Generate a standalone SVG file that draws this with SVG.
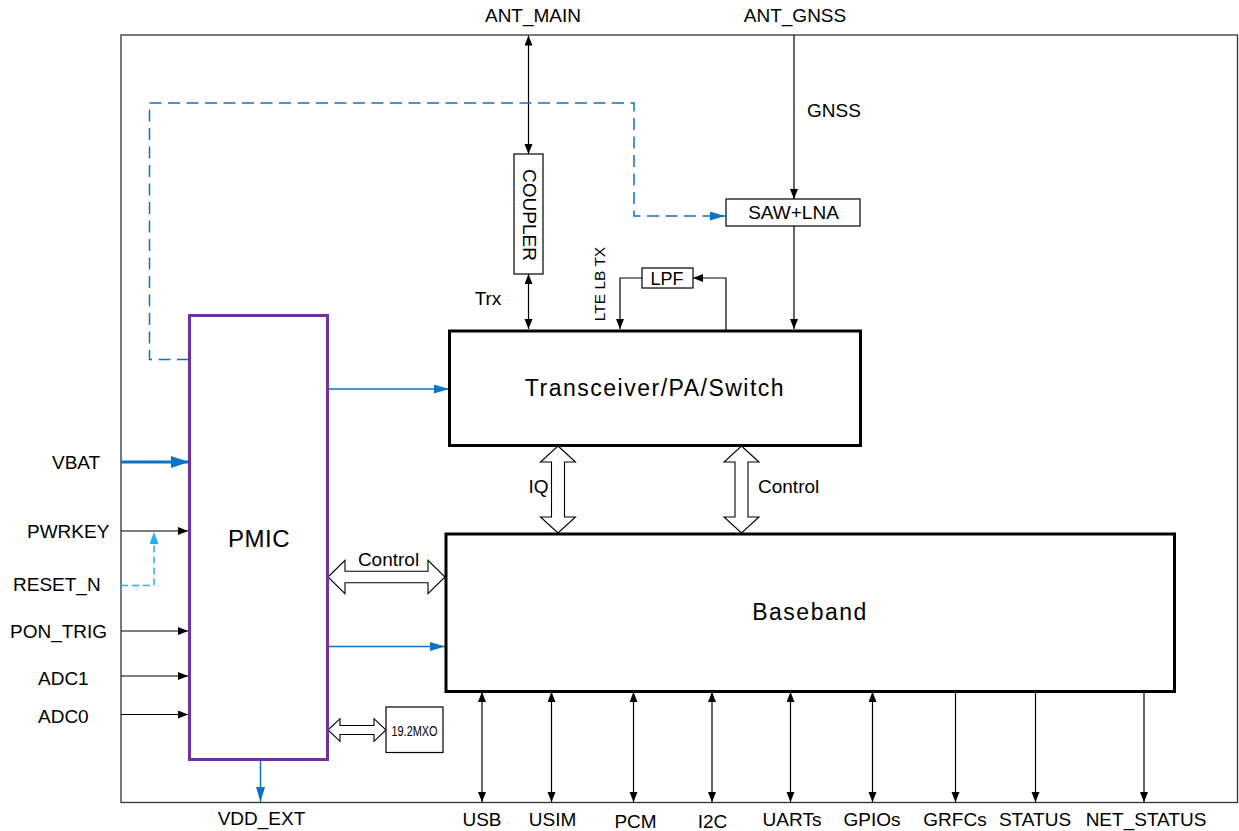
<svg xmlns="http://www.w3.org/2000/svg" width="1239" height="831" viewBox="0 0 1239 831">
<defs>
<style>
text{font-family:"Liberation Sans",Arial,sans-serif;fill:#000}
.lbl{font-size:19px}
.mid{text-anchor:middle}
.thin{fill:none;stroke:#000;stroke-width:1.2}
.blue{fill:none;stroke:#0A74C8;stroke-width:1.5}
.box{fill:#fff;stroke:#000;stroke-width:1.2}
.big{fill:#fff;stroke:#000;stroke-width:3}
.hollow{fill:#fff;stroke:#000;stroke-width:1.1;stroke-linejoin:miter}
</style>
<marker id="ab" markerUnits="userSpaceOnUse" markerWidth="11" markerHeight="9" refX="10" refY="4" orient="auto-start-reverse"><path d="M0,0 L10,4 L0,8 z" fill="#000"/></marker>
<marker id="abl" markerUnits="userSpaceOnUse" markerWidth="16" markerHeight="10" refX="15" refY="4.5" orient="auto-start-reverse"><path d="M0,0 L15,4.5 L0,9 z" fill="#0A74C8"/></marker>
<marker id="avb" markerUnits="userSpaceOnUse" markerWidth="19" markerHeight="13" refX="18" refY="6" orient="auto"><path d="M0,0 L18,6 L0,12 z" fill="#0A74C8"/></marker>
<marker id="alb" markerUnits="userSpaceOnUse" markerWidth="13" markerHeight="10" refX="12" refY="4.5" orient="auto"><path d="M0,0 L12,4.5 L0,9 z" fill="#22B0EE"/></marker>
</defs>
<rect id="frame" x="121" y="35" width="1116.5" height="767.5" fill="none" stroke="#333" stroke-width="1.3"/>

<g id="connectors">
<line class="thin" x1="528.5" y1="35.5" x2="528.5" y2="154" marker-start="url(#ab)" marker-end="url(#ab)"/>
<line class="thin" x1="528.5" y1="274" x2="528.5" y2="329" marker-start="url(#ab)" marker-end="url(#ab)"/>
<line class="thin" x1="794" y1="35" x2="794" y2="199" marker-end="url(#ab)"/>
<line class="thin" x1="794" y1="226" x2="794" y2="329" marker-end="url(#ab)"/>
<path class="thin" d="M726,330 V278 H693" marker-end="url(#ab)"/>
<path class="thin" d="M642,278 H620 V329" marker-end="url(#ab)"/>
<path class="blue" d="M189,359.5 H149.5 V103 H634 V216 H725" stroke-dasharray="12 6.5" marker-end="url(#abl)"/>
<line class="blue" x1="328" y1="389" x2="449" y2="389" marker-end="url(#abl)"/>
<line class="blue" x1="328" y1="646.5" x2="445" y2="646.5" marker-end="url(#abl)"/>
<line x1="121" y1="462" x2="189" y2="462" stroke="#0A74C8" stroke-width="3" marker-end="url(#avb)"/>
<line class="thin" x1="121" y1="531" x2="188" y2="531" marker-end="url(#ab)"/>
<path d="M121,585.5 H154 V532" fill="none" stroke="#22B0EE" stroke-width="1.5" stroke-dasharray="7 4" marker-end="url(#alb)"/>
<line class="thin" x1="121" y1="631" x2="188" y2="631" marker-end="url(#ab)"/>
<line class="thin" x1="121" y1="676" x2="188" y2="676" marker-end="url(#ab)"/>
<line class="thin" x1="121" y1="714.5" x2="188" y2="714.5" marker-end="url(#ab)"/>
<line class="blue" x1="260.5" y1="760" x2="260.5" y2="802" marker-end="url(#abl)"/>
<line class="thin" x1="482" y1="692" x2="482" y2="802" marker-start="url(#ab)" marker-end="url(#ab)"/>
<line class="thin" x1="551.5" y1="692" x2="551.5" y2="802" marker-start="url(#ab)" marker-end="url(#ab)"/>
<line class="thin" x1="633.5" y1="692" x2="633.5" y2="802" marker-start="url(#ab)" marker-end="url(#ab)"/>
<line class="thin" x1="712" y1="692" x2="712" y2="802" marker-start="url(#ab)" marker-end="url(#ab)"/>
<line class="thin" x1="790.5" y1="692" x2="790.5" y2="802" marker-start="url(#ab)" marker-end="url(#ab)"/>
<line class="thin" x1="872.5" y1="692" x2="872.5" y2="802" marker-start="url(#ab)" marker-end="url(#ab)"/>
<line class="thin" x1="955.5" y1="692" x2="955.5" y2="802" marker-end="url(#ab)"/>
<line class="thin" x1="1035.5" y1="692" x2="1035.5" y2="802" marker-end="url(#ab)"/>
<line class="thin" x1="1144" y1="692" x2="1144" y2="802" marker-end="url(#ab)"/>
<path class="hollow" d="M558,446 L575.5,462 L564.5,462 L564.5,517 L575.5,517 L558,533 L540.5,517 L551.5,517 L551.5,462 L540.5,462 Z"/>
<path class="hollow" d="M741.5,446 L759,462 L748,462 L748,517 L759,517 L741.5,533 L724,517 L735,517 L735,462 L724,462 Z"/>
<path class="hollow" d="M328,577 L345,560.3 L345,571.2 L428,571.2 L428,560.3 L445,577 L428,593.7 L428,582.8 L345,582.8 L345,593.7 Z"/>
<path class="hollow" d="M328,730 L340,718.7 L340,725.5 L374,725.5 L374,718.7 L386,730 L374,741.3 L374,734.5 L340,734.5 L340,741.3 Z"/>
</g>

<g id="labels">
<text class="lbl mid" x="533" y="22">ANT_MAIN</text>
<text class="lbl mid" x="795" y="22">ANT_GNSS</text>
<text class="lbl mid" x="834" y="117">GNSS</text>
<text class="lbl mid" x="488" y="305">Trx</text>
<text class="mid" x="0" y="0" font-size="15.5" transform="translate(599.5,284) rotate(-90) translate(0,5.5)">LTE LB TX</text>
<text class="lbl mid" x="538.5" y="493">IQ</text>
<text class="lbl" x="758" y="493">Control</text>
<text class="lbl mid" x="388.5" y="566">Control</text>
<text class="lbl" x="52" y="469">VBAT</text>
<text class="lbl" x="27" y="538">PWRKEY</text>
<text class="lbl" x="13" y="591">RESET_N</text>
<text class="lbl" x="10" y="638">PON_TRIG</text>
<text class="lbl" x="38" y="685">ADC1</text>
<text class="lbl" x="38" y="723">ADC0</text>
<text class="lbl mid" x="261.5" y="825">VDD_EXT</text>
<text class="lbl mid" x="482" y="826">USB</text>
<text class="lbl mid" x="552.5" y="826">USIM</text>
<text class="lbl mid" x="635.5" y="828">PCM</text>
<text class="lbl mid" x="712.5" y="828">I2C</text>
<text class="lbl mid" x="792" y="826">UARTs</text>
<text class="lbl mid" x="872" y="826">GPIOs</text>
<text class="lbl mid" x="955" y="826">GRFCs</text>
<text class="lbl mid" x="1035" y="826">STATUS</text>
<text class="lbl mid" x="1146" y="826">NET_STATUS</text>
</g>

<g id="coupler">
<rect class="box" x="514" y="154" width="29" height="120"/>
<text class="lbl mid" x="0" y="0" transform="translate(529.7,215) rotate(90) translate(0,6.8)">COUPLER</text>
</g>
<g id="saw_lna">
<rect class="box" x="726" y="199" width="134" height="27"/>
<text class="lbl mid" x="793.5" y="219">SAW+LNA</text>
</g>
<g id="lpf">
<rect class="box" x="642" y="268" width="51" height="20"/>
<text class="mid" x="667" y="285" font-size="18">LPF</text>
</g>
<g id="pmic">
<rect x="189.5" y="315.5" width="138" height="444" fill="#fff" stroke="#7030A0" stroke-width="3"/>
<text class="mid" x="259" y="547" font-size="24" letter-spacing="0.5">PMIC</text>
</g>
<g id="transceiver">
<rect class="big" x="449.5" y="331" width="411" height="114.5"/>
<text class="mid" x="655" y="396" font-size="23" letter-spacing="1.5">Transceiver/PA/Switch</text>
</g>
<g id="baseband">
<rect class="big" x="446" y="534" width="728.5" height="157.5"/>
<text class="mid" x="810" y="620" font-size="23" letter-spacing="1.5">Baseband</text>
</g>
<g id="xo">
<rect class="box" x="386" y="707" width="57" height="45.5"/>
<text class="mid" x="414.5" y="736" font-size="14.5" textLength="46" lengthAdjust="spacingAndGlyphs">19.2MXO</text>
</g>
</svg>
